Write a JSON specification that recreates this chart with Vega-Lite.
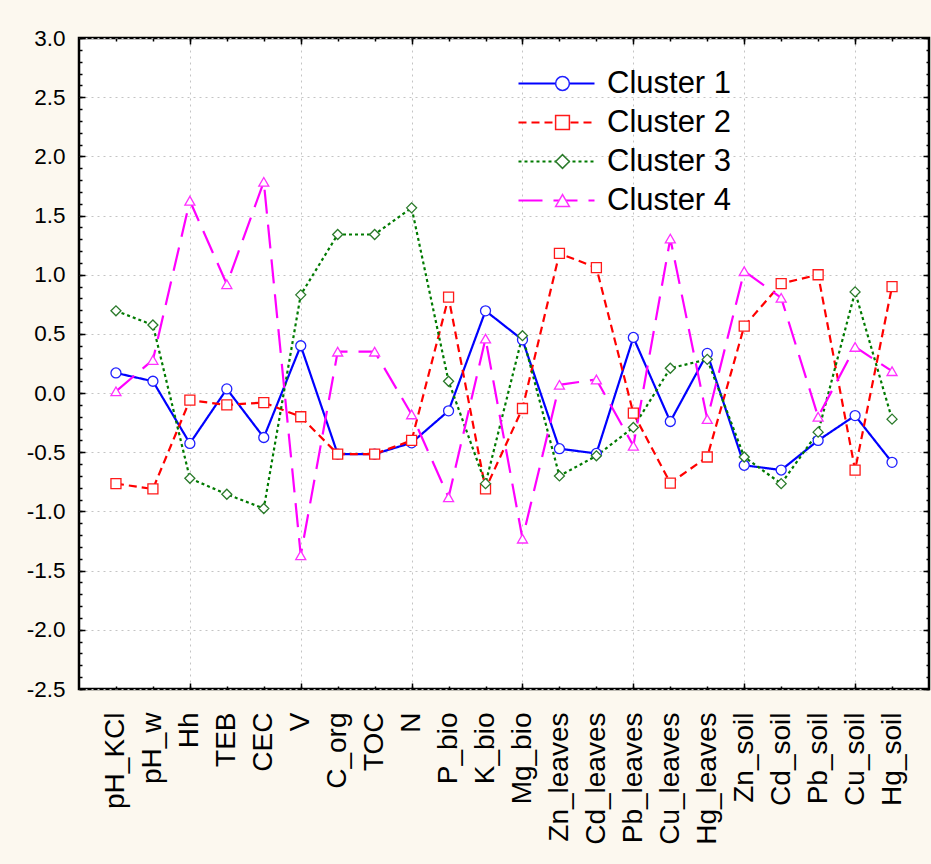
{
  "$schema": "https://vega.github.io/schema/vega-lite/v6.json",
  "width": 850,
  "height": 651,
  "autosize": {"type": "none"},
  "padding": {"left": 79, "top": 38, "right": 2, "bottom": 175},
  "background": "#FCF8EF",
  "config": {
    "view": {"stroke": "black", "strokeWidth": 2.5, "fill": "white"},
    "font": "Liberation Sans",
    "axis": {"labelColor": "black", "labelFont": "Liberation Sans", "tickColor": "black", "tickWidth": 1.5, "title": null},
    "axisLeft": {"labelFontSize": 22.5},
    "axisBottom": {"labelFontSize": 28}
  },
  "data": {
    "values": [
      {"var": "pH_KCl", "cluster": "Cluster 1", "v": 0.17},
      {"var": "pH_w", "cluster": "Cluster 1", "v": 0.10},
      {"var": "Hh", "cluster": "Cluster 1", "v": -0.425},
      {"var": "TEB", "cluster": "Cluster 1", "v": 0.035},
      {"var": "CEC", "cluster": "Cluster 1", "v": -0.375},
      {"var": "V", "cluster": "Cluster 1", "v": 0.40},
      {"var": "C_org", "cluster": "Cluster 1", "v": -0.515},
      {"var": "TOC", "cluster": "Cluster 1", "v": -0.515},
      {"var": "N", "cluster": "Cluster 1", "v": -0.42},
      {"var": "P_bio", "cluster": "Cluster 1", "v": -0.15},
      {"var": "K_bio", "cluster": "Cluster 1", "v": 0.695},
      {"var": "Mg_bio", "cluster": "Cluster 1", "v": 0.45},
      {"var": "Zn_leaves", "cluster": "Cluster 1", "v": -0.47},
      {"var": "Cd_leaves", "cluster": "Cluster 1", "v": -0.51},
      {"var": "Pb_leaves", "cluster": "Cluster 1", "v": 0.47},
      {"var": "Cu_leaves", "cluster": "Cluster 1", "v": -0.24},
      {"var": "Hg_leaves", "cluster": "Cluster 1", "v": 0.335},
      {"var": "Zn_soil", "cluster": "Cluster 1", "v": -0.61},
      {"var": "Cd_soil", "cluster": "Cluster 1", "v": -0.65},
      {"var": "Pb_soil", "cluster": "Cluster 1", "v": -0.40},
      {"var": "Cu_soil", "cluster": "Cluster 1", "v": -0.19},
      {"var": "Hg_soil", "cluster": "Cluster 1", "v": -0.585},
      {"var": "pH_KCl", "cluster": "Cluster 2", "v": -0.765},
      {"var": "pH_w", "cluster": "Cluster 2", "v": -0.81},
      {"var": "Hh", "cluster": "Cluster 2", "v": -0.06},
      {"var": "TEB", "cluster": "Cluster 2", "v": -0.10},
      {"var": "CEC", "cluster": "Cluster 2", "v": -0.08},
      {"var": "V", "cluster": "Cluster 2", "v": -0.20},
      {"var": "C_org", "cluster": "Cluster 2", "v": -0.515},
      {"var": "TOC", "cluster": "Cluster 2", "v": -0.515},
      {"var": "N", "cluster": "Cluster 2", "v": -0.40},
      {"var": "P_bio", "cluster": "Cluster 2", "v": 0.81},
      {"var": "K_bio", "cluster": "Cluster 2", "v": -0.81},
      {"var": "Mg_bio", "cluster": "Cluster 2", "v": -0.13},
      {"var": "Zn_leaves", "cluster": "Cluster 2", "v": 1.18},
      {"var": "Cd_leaves", "cluster": "Cluster 2", "v": 1.06},
      {"var": "Pb_leaves", "cluster": "Cluster 2", "v": -0.17},
      {"var": "Cu_leaves", "cluster": "Cluster 2", "v": -0.76},
      {"var": "Hg_leaves", "cluster": "Cluster 2", "v": -0.54},
      {"var": "Zn_soil", "cluster": "Cluster 2", "v": 0.565},
      {"var": "Cd_soil", "cluster": "Cluster 2", "v": 0.925},
      {"var": "Pb_soil", "cluster": "Cluster 2", "v": 1.00},
      {"var": "Cu_soil", "cluster": "Cluster 2", "v": -0.65},
      {"var": "Hg_soil", "cluster": "Cluster 2", "v": 0.90},
      {"var": "pH_KCl", "cluster": "Cluster 3", "v": 0.695},
      {"var": "pH_w", "cluster": "Cluster 3", "v": 0.575},
      {"var": "Hh", "cluster": "Cluster 3", "v": -0.72},
      {"var": "TEB", "cluster": "Cluster 3", "v": -0.855},
      {"var": "CEC", "cluster": "Cluster 3", "v": -0.975},
      {"var": "V", "cluster": "Cluster 3", "v": 0.83},
      {"var": "C_org", "cluster": "Cluster 3", "v": 1.34},
      {"var": "TOC", "cluster": "Cluster 3", "v": 1.34},
      {"var": "N", "cluster": "Cluster 3", "v": 1.565},
      {"var": "P_bio", "cluster": "Cluster 3", "v": 0.10},
      {"var": "K_bio", "cluster": "Cluster 3", "v": -0.765},
      {"var": "Mg_bio", "cluster": "Cluster 3", "v": 0.485},
      {"var": "Zn_leaves", "cluster": "Cluster 3", "v": -0.70},
      {"var": "Cd_leaves", "cluster": "Cluster 3", "v": -0.53},
      {"var": "Pb_leaves", "cluster": "Cluster 3", "v": -0.29},
      {"var": "Cu_leaves", "cluster": "Cluster 3", "v": 0.21},
      {"var": "Hg_leaves", "cluster": "Cluster 3", "v": 0.285},
      {"var": "Zn_soil", "cluster": "Cluster 3", "v": -0.54},
      {"var": "Cd_soil", "cluster": "Cluster 3", "v": -0.765},
      {"var": "Pb_soil", "cluster": "Cluster 3", "v": -0.33},
      {"var": "Cu_soil", "cluster": "Cluster 3", "v": 0.855},
      {"var": "Hg_soil", "cluster": "Cluster 3", "v": -0.22},
      {"var": "pH_KCl", "cluster": "Cluster 4", "v": 0.015},
      {"var": "pH_w", "cluster": "Cluster 4", "v": 0.28},
      {"var": "Hh", "cluster": "Cluster 4", "v": 1.625},
      {"var": "TEB", "cluster": "Cluster 4", "v": 0.92},
      {"var": "CEC", "cluster": "Cluster 4", "v": 1.785},
      {"var": "V", "cluster": "Cluster 4", "v": -1.37},
      {"var": "C_org", "cluster": "Cluster 4", "v": 0.35},
      {"var": "TOC", "cluster": "Cluster 4", "v": 0.35},
      {"var": "N", "cluster": "Cluster 4", "v": -0.18},
      {"var": "P_bio", "cluster": "Cluster 4", "v": -0.88},
      {"var": "K_bio", "cluster": "Cluster 4", "v": 0.46},
      {"var": "Mg_bio", "cluster": "Cluster 4", "v": -1.23},
      {"var": "Zn_leaves", "cluster": "Cluster 4", "v": 0.07},
      {"var": "Cd_leaves", "cluster": "Cluster 4", "v": 0.115},
      {"var": "Pb_leaves", "cluster": "Cluster 4", "v": -0.445},
      {"var": "Cu_leaves", "cluster": "Cluster 4", "v": 1.305},
      {"var": "Hg_leaves", "cluster": "Cluster 4", "v": -0.22},
      {"var": "Zn_soil", "cluster": "Cluster 4", "v": 1.03},
      {"var": "Cd_soil", "cluster": "Cluster 4", "v": 0.805},
      {"var": "Pb_soil", "cluster": "Cluster 4", "v": -0.20},
      {"var": "Cu_soil", "cluster": "Cluster 4", "v": 0.39},
      {"var": "Hg_soil", "cluster": "Cluster 4", "v": 0.185}
    ]
  },
  "layer": [
    {
      "mark": {"type": "line", "strokeWidth": 2.2},
      "encoding": {
        "x": {
          "field": "var", "type": "nominal",
          "sort": ["pH_KCl","pH_w","Hh","TEB","CEC","V","C_org","TOC","N","P_bio","K_bio","Mg_bio","Zn_leaves","Cd_leaves","Pb_leaves","Cu_leaves","Hg_leaves","Zn_soil","Cd_soil","Pb_soil","Cu_soil","Hg_soil"],
          "scale": {"type": "point", "padding": 1},
          "axis": {
            "orient": "bottom", "labelAngle": -90, "labelFontSize": 28, "labelPadding": 26,
            "labelOverlap": false, "labelFlush": false, "labelBound": false,
            "domain": false, "ticks": true, "tickSize": -3,
            "grid": true, "gridDash": [2, 4], "gridColor": "#c4c4c4", "gridWidth": 1,
            "gridOpacity": {"condition": {"test": "indexof(['Hh','V','N','Mg_bio','Pb_leaves','Zn_soil','Cu_soil'], datum.value) >= 0", "value": 1}, "value": 0}
          }
        },
        "y": {
          "field": "v", "type": "quantitative",
          "scale": {"domain": [-2.5, 3], "nice": false, "zero": false},
          "axis": {
            "orient": "left",
            "values": [-2.5,-2.4,-2.3,-2.2,-2.1,-2.0,-1.9,-1.8,-1.7,-1.6,-1.5,-1.4,-1.3,-1.2,-1.1,-1.0,-0.9,-0.8,-0.7,-0.6,-0.5,-0.4,-0.3,-0.2,-0.1,0,0.1,0.2,0.3,0.4,0.5,0.6,0.7,0.8,0.9,1.0,1.1,1.2,1.3,1.4,1.5,1.6,1.7,1.8,1.9,2.0,2.1,2.2,2.3,2.4,2.5,2.6,2.7,2.8,2.9,3.0],
            "labelExpr": "abs(datum.value*2 - round(datum.value*2)) < 0.01 ? replace(format(datum.value, '.1f'), '\u2212', '-') : ''",
            "labelFontSize": 22.5, "labelPadding": 17, "labelOverlap": false, "labelBound": false, "labelFlush": false,
            "domain": false, "ticks": true, "tickSize": -3,
            "grid": true, "gridDash": [2, 4], "gridColor": "#c4c4c4", "gridWidth": 1,
            "gridOpacity": {"condition": {"test": "abs(datum.value*2 - round(datum.value*2)) < 0.01", "value": 1}, "value": 0}
          }
        },
        "color": {
          "field": "cluster", "type": "nominal",
          "scale": {"domain": ["Cluster 1","Cluster 2","Cluster 3","Cluster 4"], "range": ["#0000ff","#ff0000","#007a00","#ff00ff"]},
          "legend": {"title": null, "orient": "none", "legendX": 462, "legendY": 30, "symbolType": "M-3,0H3", "symbolSize": 642, "symbolStrokeWidth": 2.2, "labelFontSize": 31, "labelFont": "Liberation Sans", "labelColor": "black", "labelOffset": 35, "rowPadding": 7}
        },
        "strokeDash": {
          "field": "cluster", "type": "nominal",
          "scale": {"domain": ["Cluster 1","Cluster 2","Cluster 3","Cluster 4"], "range": [[1,0],[8,5],[3,3],[24,11]]},
          "legend": {"title": null, "orient": "none", "legendX": 462, "legendY": 30, "symbolType": "M-3,0H3", "symbolSize": 642, "symbolStrokeWidth": 2.2, "labelFontSize": 31, "labelFont": "Liberation Sans", "labelColor": "black", "labelOffset": 35, "rowPadding": 7}
        }
      }
    },
    {
      "mark": {"type": "point", "filled": true, "fill": "white", "strokeWidth": 1.3, "size": 100, "opacity": 1},
      "encoding": {
        "x": {
          "field": "var", "type": "nominal",
          "sort": ["pH_KCl","pH_w","Hh","TEB","CEC","V","C_org","TOC","N","P_bio","K_bio","Mg_bio","Zn_leaves","Cd_leaves","Pb_leaves","Cu_leaves","Hg_leaves","Zn_soil","Cd_soil","Pb_soil","Cu_soil","Hg_soil"],
          "axis": {"orient": "top", "labels": false, "domain": false, "grid": false, "ticks": true, "tickSize": -3}
        },
        "y": {
          "field": "v", "type": "quantitative",
          "axis": {
            "orient": "right",
            "values": [-2.5,-2.4,-2.3,-2.2,-2.1,-2.0,-1.9,-1.8,-1.7,-1.6,-1.5,-1.4,-1.3,-1.2,-1.1,-1.0,-0.9,-0.8,-0.7,-0.6,-0.5,-0.4,-0.3,-0.2,-0.1,0,0.1,0.2,0.3,0.4,0.5,0.6,0.7,0.8,0.9,1.0,1.1,1.2,1.3,1.4,1.5,1.6,1.7,1.8,1.9,2.0,2.1,2.2,2.3,2.4,2.5,2.6,2.7,2.8,2.9,3.0],
            "labels": false, "domain": false, "grid": false, "ticks": true, "tickSize": -3
          }
        },
        "stroke": {
          "field": "cluster", "type": "nominal",
          "scale": {"range": ["#2020ff","#ff1a1a","#2a7a2a","#ff30ff"]},
          "legend": {
            "title": null, "orient": "none", "legendX": 468, "legendY": 30, "symbolSize": 190, "symbolStrokeWidth": 1.5,
            "labelFontSize": 31, "labelFont": "Liberation Sans", "labelExpr": "''", "labelOffset": 35, "rowPadding": 7,
            "encode": {"symbols": {"update": {"fill": {"value": "white"}, "opacity": {"value": 1}}}}
          }
        },
        "shape": {
          "field": "cluster", "type": "nominal",
          "scale": {"range": ["circle","square","diamond","triangle-up"]},
          "legend": {
            "title": null, "orient": "none", "legendX": 468, "legendY": 30, "symbolSize": 190, "symbolStrokeWidth": 1.5,
            "labelFontSize": 31, "labelFont": "Liberation Sans", "labelExpr": "''", "labelOffset": 35, "rowPadding": 7,
            "encode": {"symbols": {"update": {"fill": {"value": "white"}, "opacity": {"value": 1}}}}
          }
        }
      }
    },
    {
      "mark": {"type": "point", "opacity": 0},
      "encoding": {
        "x": {
          "field": "var", "type": "nominal",
          "sort": ["pH_KCl","pH_w","Hh","TEB","CEC","V","C_org","TOC","N","P_bio","K_bio","Mg_bio","Zn_leaves","Cd_leaves","Pb_leaves","Cu_leaves","Hg_leaves","Zn_soil","Cd_soil","Pb_soil","Cu_soil","Hg_soil"],
          "axis": {"orient": "bottom", "values": ["Hh","V","N","Mg_bio","Pb_leaves","Zn_soil","Cu_soil"], "labels": false, "domain": false, "grid": false, "ticks": true, "tickSize": -6}
        },
        "y": {
          "field": "v", "type": "quantitative",
          "axis": {"orient": "left", "values": [-2.5,-2.0,-1.5,-1.0,-0.5,0,0.5,1.0,1.5,2.0,2.5,3.0], "labels": false, "domain": false, "grid": false, "ticks": true, "tickSize": -6}
        }
      }
    },
    {
      "mark": {"type": "point", "opacity": 0},
      "encoding": {
        "x": {
          "field": "var", "type": "nominal",
          "sort": ["pH_KCl","pH_w","Hh","TEB","CEC","V","C_org","TOC","N","P_bio","K_bio","Mg_bio","Zn_leaves","Cd_leaves","Pb_leaves","Cu_leaves","Hg_leaves","Zn_soil","Cd_soil","Pb_soil","Cu_soil","Hg_soil"],
          "axis": {"orient": "top", "values": ["Hh","V","N","Mg_bio","Pb_leaves","Zn_soil","Cu_soil"], "labels": false, "domain": false, "grid": false, "ticks": true, "tickSize": -6}
        },
        "y": {
          "field": "v", "type": "quantitative",
          "axis": {"orient": "right", "values": [-2.5,-2.0,-1.5,-1.0,-0.5,0,0.5,1.0,1.5,2.0,2.5,3.0], "labels": false, "domain": false, "grid": false, "ticks": true, "tickSize": -6}
        }
      }
    }
  ],
  "resolve": {"axis": {"x": "independent", "y": "independent"}}
}
